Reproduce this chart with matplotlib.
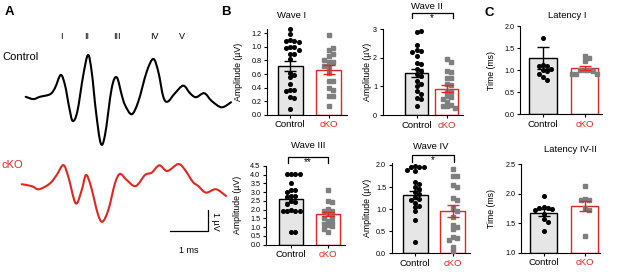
import numpy as np
import matplotlib
matplotlib.use("Agg")
import matplotlib.pyplot as plt
from matplotlib.path import Path
from matplotlib.patches import PathPatch

plt.rcParams['font.family'] = ['Liberation Sans', 'DejaVu Sans']

W, H = 617, 272
RED = '#e3261f'
GREY = '#7f7f7f'

# ---- panel A traces (time in ms, amplitude in uV) ----
ctrl_t = [0.105, 0.305, 0.48, 0.745, 0.876, 1.026, 1.139, 1.253, 1.342, 1.463, 1.621, 1.745, 1.842,
          1.955, 2.079, 2.192, 2.368, 2.5, 2.632, 2.718, 2.895, 3.068, 3.289, 3.463, 3.595, 3.726,
          3.842, 4.034, 4.253, 4.429, 4.587, 4.805, 5.0, 5.263, 5.508]
ctrl_v = [0.01, -0.10, 0.01, 0.13, 0.43, 1.05, 0.57, -0.52, -1.14, -0.70, 1.05, 2.00, 1.20,
          -0.70, -2.20, -1.81, 0.41, 0.94, 0.10, -0.38, -0.82, -0.22, 1.20, 1.81, 1.20, 0.01,
          -0.22, 0.18, 0.54, 0.18, -0.01, 0.18, -0.19, -0.49, -0.25]
cko_t = [0.0, 0.263, 0.455, 0.745, 0.921, 1.095, 1.226, 1.421, 1.579, 1.692, 1.824, 2.0, 2.121,
         2.279, 2.455, 2.587, 2.763, 3.0, 3.245, 3.421, 3.621, 3.832, 4.121, 4.297, 4.5, 4.647,
         4.85, 5.113, 5.376]
cko_v = [-0.01, -0.10, -0.25, 0.03, 0.43, 0.90, 0.35, -0.92, -0.29, 0.43, -0.13, -1.40, -1.80,
         -1.24, 0.03, 0.48, 0.19, -0.10, 0.43, 0.54, 0.89, 0.62, 0.95, 0.67, 0.11, -0.10,
         -0.41, -0.25, -0.57]
wave_names = ['I', 'II', 'III', 'IV', 'V']
wave_t = [1.034, 1.713, 2.508, 3.482, 4.218]

# ---- panel B / C data ----
groups = ['Control', 'cKO']
wave1_ctrl = [1.26, 1.19, 1.10, 1.09, 1.08, 1.07, 1.00, 1.00, 0.99, 0.95, 0.90, 0.90, 0.82, 0.62,
              0.58, 0.55, 0.46, 0.36, 0.36, 0.35, 0.26, 0.25, 0.08]
wave1_cko = [1.18, 0.96, 0.98, 0.90, 0.87, 0.78, 0.78, 0.80, 0.71, 0.72, 0.61, 0.49, 0.49, 0.39,
             0.37, 0.28, 0.27, 0.13]
wave2_ctrl = [2.90, 2.93, 2.45, 2.27, 2.25, 2.22, 2.05, 1.82, 1.78, 1.62, 1.55, 1.45, 1.35, 1.20,
              1.10, 1.00, 0.85, 0.72, 0.60, 0.55, 0.30]
wave2_cko = [1.95, 1.85, 1.55, 1.50, 1.30, 1.28, 1.10, 1.05, 0.85, 0.80, 0.65, 0.62, 0.55, 0.45,
             0.35, 0.32, 0.30, 0.25]
wave3_ctrl = [4.05, 4.05, 4.05, 4.05, 3.50, 3.15, 3.10, 3.00, 2.80, 2.80, 2.75, 2.50, 2.45, 2.30,
              2.00, 1.95, 1.95, 1.90, 1.90, 0.75, 0.75]
wave3_cko = [3.10, 2.50, 2.45, 2.05, 1.95, 1.90, 1.75, 1.60, 1.55, 1.35, 1.30, 1.20, 1.10, 1.05,
             0.90, 0.75]
wave4_ctrl = [1.97, 1.96, 1.95, 1.95, 1.88, 1.86, 1.62, 1.58, 1.50, 1.45, 1.38, 1.35, 1.28, 1.22,
              1.20, 1.15, 1.08, 1.05, 0.95, 0.75, 0.25]
wave4_cko = [1.90, 1.75, 1.75, 1.55, 1.50, 1.25, 1.20, 1.02, 0.95, 0.82, 0.65, 0.60, 0.55, 0.37,
             0.35, 0.30, 0.15, 0.05]
lat1_ctrl = [1.73, 1.12, 1.10, 1.08, 1.03, 1.00, 0.98, 0.92, 0.83, 0.78]
lat1_cko = [1.32, 1.27, 1.20, 1.00, 1.00, 1.00, 0.98, 0.92, 0.92, 0.92]
lat42_ctrl = [1.96, 1.77, 1.76, 1.75, 1.74, 1.72, 1.66, 1.58, 1.52, 1.37]
lat42_cko = [2.14, 1.91, 1.90, 1.89, 1.75, 1.72, 1.28]

# bar heights and SEM
means = {'I': (0.72, 0.665), 'II': (1.48, 0.92), 'III': (2.61, 1.75), 'IV': (1.32, 0.96),
         'L1': (1.28, 1.04), 'L42': (1.68, 1.79)}
sems = {'I': (0.075, 0.07), 'II': (0.14, 0.13), 'III': (0.18, 0.13), 'IV': (0.10, 0.14),
        'L1': (0.25, 0.05), 'L42': (0.055, 0.08)}

fig = plt.figure(figsize=(W / 100, H / 100), dpi=100)


def px_axes(l, t, r, b):
    return fig.add_axes([l / W, 1 - b / H, (r - l) / W, (b - t) / H])


def ftext(x, y, s, **kw):
    fig.text(x / W, 1 - y / H, s, **kw)


def smooth_trace(ax, x, y, color):
    # draw the read points as a smooth Bezier curve through them
    pts = np.column_stack([x, y])
    n = len(pts)
    verts, codes = [pts[0]], [Path.MOVETO]
    for i in range(n - 1):
        p0, p1 = pts[max(i - 1, 0)], pts[i]
        p2, p3 = pts[i + 1], pts[min(i + 2, n - 1)]
        verts += [p1 + (p2 - p0) / 6, p2 - (p3 - p1) / 6, p2]
        codes += [Path.CURVE4] * 3
    ax.add_patch(PathPatch(Path(verts, codes), fill=False, edgecolor=color, lw=1.5,
                           joinstyle='round', capstyle='round'))


# ---------- panel A ----------
axA = px_axes(0, 0, 240, 272)
axA.set_xlim(-21.7 / 38, (240 - 21.7) / 38)
axA.set_ylim((97 - 272) / 21, 97 / 21)
axA.axis('off')
cko_off = -87 / 21
smooth_trace(axA, ctrl_t, ctrl_v, 'black')
smooth_trace(axA, cko_t, np.array(cko_v) + cko_off, RED)
for name, t in zip(wave_names, wave_t):
    axA.text(t, 2.86, name, ha='center', va='center', fontsize=6.5)
axA.text(-0.52, 1.9, 'Control', ha='left', va='center', fontsize=8)
axA.text(-0.52, -3.24, 'cKO', ha='left', va='center', fontsize=8, color=RED)
axA.plot([3.903, 4.903, 4.903], [-6.381, -6.381, -5.381], color='black', lw=0.9)
axA.text(4.403, -7.29, '1 ms', ha='center', va='center', fontsize=6.5)
axA.text(5.087, -5.9, '1 µV', ha='center', va='center', fontsize=6.5, rotation=270)

ftext(9.5, 12, 'A', fontsize=9.5, fontweight='bold', ha='center', va='center')
ftext(225.5, 12, 'B', fontsize=9.5, fontweight='bold', ha='center', va='center')
ftext(489, 13, 'C', fontsize=9.5, fontweight='bold', ha='center', va='center')


def swarm(ax, xc, vals, d=4.2):
    tr = ax.transData
    inv = tr.inverted()
    x0 = tr.transform((xc, 0))[0]
    placed, xs = [], []
    for v in vals:
        y = tr.transform((xc, v))[1]
        k = 0
        while True:
            off = ((k + 1) // 2) * d * (1 if k % 2 else -1)
            if all((off - a) ** 2 + (y - b) ** 2 >= d * d for a, b in placed):
                break
            k += 1
        placed.append((off, y))
        xs.append(inv.transform((x0 + off, y))[0])
    return xs


def bar_panel(box, xlim, ylim, yticks, fmt, key, ctrl, cko, ylabel, lab_x, width=0.66):
    l, t, r, b = box
    ax = px_axes(l, t, r, b)
    ax.set_xlim(*xlim)
    ax.set_ylim(*ylim)
    m, s = means[key], sems[key]
    ax.bar([0], [m[0] - ylim[0]], bottom=ylim[0], width=width, color='#e6e6e6',
           edgecolor='black', lw=1.0, zorder=1)
    ax.bar([1], [m[1] - ylim[0]], bottom=ylim[0], width=width, color='white',
           edgecolor=RED, lw=1.0, zorder=1)
    ax.plot(swarm(ax, 0, ctrl), ctrl, 'o', ms=2.6, color='black', zorder=3, clip_on=False)
    ax.plot(swarm(ax, 1, cko), cko, 's', ms=2.4, color=GREY, zorder=3, clip_on=False)
    ax.errorbar([0], [m[0]], yerr=[s[0]], color='black', capsize=4, elinewidth=1.0,
                capthick=1.0, zorder=4)
    ax.errorbar([1], [m[1]], yerr=[s[1]], color=RED, capsize=4, elinewidth=1.0,
                capthick=1.0, zorder=4)
    for sp in ['top', 'right']:
        ax.spines[sp].set_visible(False)
    for sp in ['left', 'bottom']:
        ax.spines[sp].set_linewidth(0.8)
    ax.set_yticks(yticks)
    ax.set_yticklabels([fmt.format(v) for v in yticks], fontsize=5.2)
    ax.set_xticks([0, 1])
    ax.set_xticklabels(groups, fontsize=6.8)
    ax.get_xticklabels()[1].set_color(RED)
    ax.tick_params(length=2.5, width=0.8, pad=1.5)
    ax.set_ylabel(ylabel, fontsize=6.3)
    ax.yaxis.set_label_coords((lab_x - l) / (r - l), 0.5)
    return ax


def bracket(ax, x0, x1, ytop, ylow, ystar, label):
    ax.plot([x0, x0, x1, x1], [ylow, ytop, ytop, ylow], color='black', lw=0.9, clip_on=False)
    ax.text((x0 + x1) / 2, ystar, label, ha='center', va='center', fontsize=7)


amp = 'Amplitude (µV)'
a1 = bar_panel((267.3, 29.3, 347, 114.7), (-0.6, 1.48), (0, 1.26), np.arange(0, 1.21, 0.2),
               '{:.1f}', 'I', wave1_ctrl, wave1_cko, amp, 242.5)
a2 = bar_panel((382.7, 28.7, 463, 115), (-1.13, 1.54), (0, 3.02), [0, 1, 2, 3],
               '{:.0f}', 'II', wave2_ctrl, wave2_cko, amp, 372.5, width=0.75)
a3 = bar_panel((266, 166, 345, 244.7), (-0.68, 1.46), (0, 4.5), np.arange(0, 4.51, 0.5),
               '{:.1f}', 'III', wave3_ctrl, wave3_cko, amp, 242.5)
a4 = bar_panel((391.7, 163.2, 470, 253.3), (-0.62, 1.45), (0, 2.04), np.arange(0, 2.01, 0.5),
               '{:.1f}', 'IV', wave4_ctrl, wave4_cko, amp, 372.5)
c1 = bar_panel((520, 26, 601.7, 114), (-0.55, 1.41), (0, 2.0), np.arange(0, 2.01, 0.5),
               '{:.1f}', 'L1', lat1_ctrl, lat1_cko, 'Time (ms)', 496)
c2 = bar_panel((521, 164.3, 600, 252.7), (-0.55, 1.37), (1.0, 2.5), np.arange(1.0, 2.51, 0.5),
               '{:.1f}', 'L42', lat42_ctrl, lat42_cko, 'Time (ms)', 496)

bracket(a2, -0.17, 1.2, 3.56, 3.38, 3.38, '*')
bracket(a3, -0.08, 1.0, 5.04, 4.66, 4.72, '**')
bracket(a4, -0.09, 1.04, 2.22, 2.06, 2.10, '*')

ftext(291.7, 15, 'Wave I', ha='center', va='center', fontsize=6.8)
ftext(426.7, 6.3, 'Wave II', ha='center', va='center', fontsize=6.8)
ftext(308.3, 145, 'Wave III', ha='center', va='center', fontsize=6.8)
ftext(430.8, 146.3, 'Wave IV', ha='center', va='center', fontsize=6.8)
ftext(567.5, 15, 'Latency I', ha='center', va='center', fontsize=6.8)
ftext(570, 150, 'Latency IV-II', ha='center', va='center', fontsize=6.8)

fig.savefig('out.png', dpi=100)
